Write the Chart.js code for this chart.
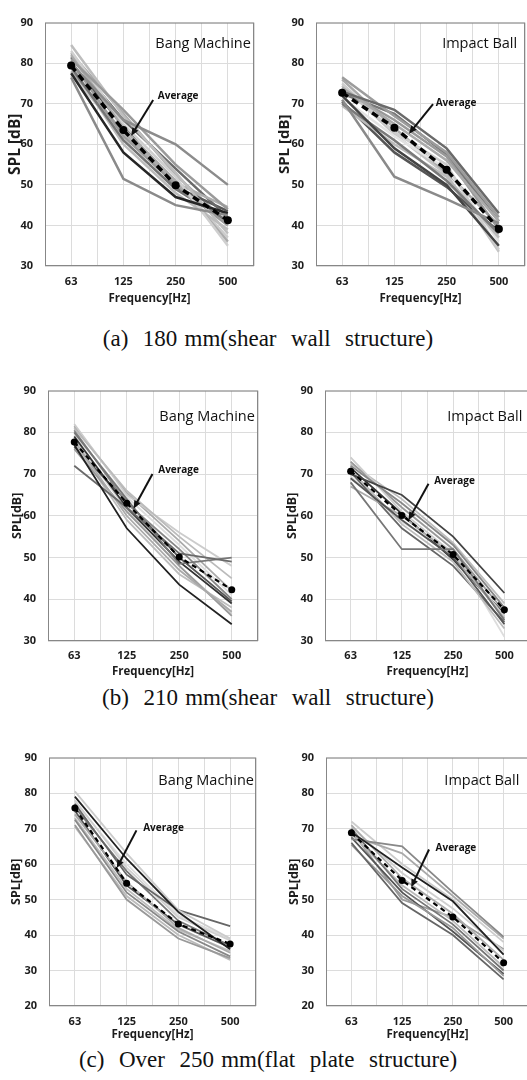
<!DOCTYPE html>
<html>
<head>
<meta charset="utf-8">
<script src="https://cdn.jsdelivr.net/npm/chart.js@4/dist/chart.umd.min.js"></script>
<style>
  html, body { margin: 0; padding: 0; background: #fff; }
  body { position: relative; width: 527px; height: 1080px; overflow: hidden; }
  canvas { position: absolute; }
  .cap {
    position: absolute; left: 0; width: 536px; text-align: center;
    font-family: "Liberation Serif", "Times New Roman", serif;
    font-size: 23px; line-height: 26px; word-spacing: 1.5px; white-space: pre; color: #111;
  }
</style>
</head>
<body>
<canvas id="bang180"></canvas>
<canvas id="impact180"></canvas>
<canvas id="bang210"></canvas>
<canvas id="impact210"></canvas>
<canvas id="bang250"></canvas>
<canvas id="impact250"></canvas>
<div class="cap" style="top:326px">(a)  180 mm(shear  wall  structure)</div>
<div class="cap" style="top:685px">(b)  210 mm(shear  wall  structure)</div>
<div class="cap" style="top:1047px">(c)  Over  250 mm(flat  plate  structure)</div>

<script>
// Octave-band centre frequencies [Hz]
const FREQ_LABELS = ['63', '125', '250', '500'];

// (a) 180 mm slabs, shear wall structure – bang machine runs [dB]
const BANG_180_RUNS = [
  [76.5, 51.5, 45.0, 42.5],
  [77.5, 58.0, 47.0, 43.0],
  [80.0, 66.0, 60.0, 50.0],
  [81.0, 68.5, 55.0, 44.0],
  [84.5, 67.0, 53.0, 38.0],
  [83.0, 65.0, 52.0, 35.0],
  [82.0, 64.0, 51.0, 36.0],
  [80.5, 62.0, 50.0, 40.0],
  [79.0, 61.0, 49.0, 41.0],
  [78.0, 63.0, 50.5, 44.5],
  [81.5, 66.0, 54.0, 42.0],
  [79.5, 60.0, 48.0, 39.0],
  [77.0, 62.5, 51.0, 37.0],
  [80.0, 64.5, 49.5, 43.5],
  [82.5, 67.5, 52.5, 40.5]
];
const BANG_180_AVG = [79.4, 63.5, 49.9, 41.3];

// (a) 180 mm slabs – impact ball runs [dB]
const IMPACT_180_RUNS = [
  [71.0, 52.0, 46.5, 40.5],
  [73.0, 68.5, 59.0, 43.0],
  [76.5, 67.0, 58.0, 42.0],
  [72.0, 59.0, 50.0, 35.0],
  [70.0, 61.0, 51.0, 38.0],
  [74.0, 65.0, 56.0, 41.0],
  [75.0, 63.0, 55.0, 34.0],
  [69.5, 60.0, 52.0, 37.0],
  [73.5, 66.0, 57.0, 39.0],
  [71.5, 62.0, 54.0, 36.0],
  [76.0, 64.0, 53.0, 40.0],
  [72.5, 67.5, 57.5, 41.0],
  [70.5, 58.0, 49.5, 38.5],
  [74.5, 62.5, 52.5, 33.5]
];
const IMPACT_180_AVG = [72.7, 64.1, 53.7, 39.1];

// (b) 210 mm slabs, shear wall structure – bang machine runs [dB]
const BANG_210_RUNS = [
  [77.0, 57.0, 43.5, 34.0],
  [72.0, 62.0, 51.0, 49.0],
  [80.0, 64.0, 48.5, 50.0],
  [81.0, 66.0, 55.0, 45.0],
  [82.0, 65.0, 56.0, 48.0],
  [79.0, 62.0, 49.0, 39.0],
  [78.0, 60.0, 47.0, 37.0],
  [76.0, 61.0, 48.0, 36.0],
  [80.5, 63.0, 52.0, 40.0],
  [77.5, 59.0, 46.0, 38.0],
  [79.5, 64.5, 53.0, 41.0],
  [76.5, 63.5, 50.0, 39.5],
  [81.5, 65.5, 54.0, 42.0],
  [78.5, 61.5, 48.0, 36.5]
];
const BANG_210_AVG = [77.7, 63.0, 50.1, 42.3];

// (b) 210 mm slabs – impact ball runs [dB]
const IMPACT_210_RUNS = [
  [68.0, 52.0, 52.0, 35.0],
  [70.0, 65.0, 55.0, 41.5],
  [72.0, 63.0, 53.0, 38.0],
  [74.0, 61.0, 51.0, 36.0],
  [69.0, 59.0, 50.0, 34.0],
  [71.0, 58.0, 49.0, 33.0],
  [73.0, 62.0, 52.0, 37.0],
  [67.0, 60.0, 50.5, 35.5],
  [70.5, 57.0, 48.0, 34.5],
  [72.5, 64.0, 53.5, 39.0],
  [69.5, 58.5, 51.5, 31.0],
  [71.5, 60.5, 49.5, 36.5]
];
const IMPACT_210_AVG = [70.7, 60.1, 50.7, 37.5];

// (c) over 250 mm slabs, flat plate structure – bang machine runs [dB]
const BANG_250_RUNS = [
  [79.0, 61.5, 46.5, 36.0],
  [80.5, 63.0, 47.0, 39.0],
  [77.0, 57.0, 47.0, 42.5],
  [71.0, 50.0, 39.0, 33.5],
  [72.5, 52.0, 41.0, 34.0],
  [74.0, 55.0, 42.0, 35.0],
  [70.5, 51.0, 40.0, 33.0],
  [76.0, 58.0, 44.0, 37.0],
  [78.0, 59.0, 45.0, 38.5],
  [75.0, 54.0, 43.0, 36.5],
  [73.0, 53.0, 41.5, 35.5],
  [77.5, 60.0, 45.5, 39.0]
];
const BANG_250_AVG = [75.8, 54.6, 43.1, 37.5];

// (c) over 250 mm slabs – impact ball runs [dB]
const IMPACT_250_RUNS = [
  [69.0, 59.0, 49.5, 34.5],
  [67.0, 65.0, 52.0, 39.5],
  [68.0, 63.0, 51.0, 39.0],
  [72.0, 60.0, 50.0, 38.0],
  [66.0, 49.0, 40.0, 27.5],
  [65.5, 51.0, 42.0, 28.5],
  [70.0, 53.0, 43.0, 30.0],
  [68.5, 54.0, 44.0, 31.0],
  [71.0, 56.0, 46.0, 33.0],
  [67.5, 52.0, 41.0, 29.0],
  [70.5, 57.5, 47.5, 35.5],
  [69.5, 50.0, 45.0, 36.0]
];
const IMPACT_250_AVG = [68.8, 55.4, 45.1, 32.2];

// SPL axis ranges [dB]
const SPL_RANGE_SHEAR = [30, 90];
const SPL_RANGE_FLAT = [20, 90];

// Grey shades used for the individual runs (one per run)
const SHADES_BANG_180   = ['#8a8a8a','#262626','#8c8c8c','#9a9a9a','#bdbdbd','#cfcfcf','#ababab','#9b9b9b','#747474','#adadad','#6a6a6a','#bbbbbb','#cccccc','#585858','#a8a8a8'];
const SHADES_IMPACT_180 = ['#8a8a8a','#6a6a6a','#9c9c9c','#444444','#7a7a7a','#aaaaaa','#cccccc','#bbbbbb','#999999','#e2e2e2','#a9a9a9','#777777','#555555','#c4c4c4'];
const SHADES_BANG_210   = ['#222222','#6a6a6a','#777777','#bbbbbb','#cccccc','#333333','#aaaaaa','#999999','#888888','#bdbdbd','#dddddd','#555555','#ababab','#cfcfcf'];
const SHADES_IMPACT_210 = ['#777777','#444444','#888888','#cccccc','#555555','#bbbbbb','#999999','#aaaaaa','#666666','#bdbdbd','#dddddd','#333333'];
const SHADES_BANG_250   = ['#222222','#cccccc','#666666','#999999','#888888','#aaaaaa','#bbbbbb','#777777','#cfcfcf','#555555','#bdbdbd','#dddddd'];
const SHADES_IMPACT_250 = ['#222222','#888888','#aaaaaa','#cccccc','#666666','#999999','#777777','#bbbbbb','#ababab','#555555','#cfcfcf','#9a9a9a'];

const FONT = '"Open Sans", "Liberation Sans", sans-serif';
const TEXT = '#1c1c1c';

// Frame, test-method name and the "Average" call-out drawn on top of the plot
const panelDecor = {
  id: 'panelDecor',
  afterDatasetsDraw(chart, args, opts) {
    const { ctx, chartArea: a, scales: { x, y } } = chart;
    ctx.save();
    ctx.strokeStyle = '#878787';
    ctx.lineWidth = 1;
    ctx.strokeRect(a.left + 0.5, a.top + 0.5, a.right - a.left - 1, a.bottom - a.top - 1);

    ctx.fillStyle = '#111';
    ctx.textBaseline = 'middle';
    ctx.font = '14.5px ' + FONT;
    ctx.textAlign = 'right';
    ctx.fillText(opts.name, x.getPixelForValue(opts.nameAt[0]), y.getPixelForValue(opts.nameAt[1]));

    ctx.font = 'bold 10px ' + FONT;
    ctx.textAlign = 'left';
    ctx.fillText('Average', x.getPixelForValue(opts.labelAt[0]), y.getPixelForValue(opts.labelAt[1]));

    const x0 = x.getPixelForValue(opts.arrowFrom[0]), y0 = y.getPixelForValue(opts.arrowFrom[1]);
    const x1 = x.getPixelForValue(opts.arrowTo[0]),   y1 = y.getPixelForValue(opts.arrowTo[1]);
    const ang = Math.atan2(y1 - y0, x1 - x0);
    const head = 8, half = 3.5;
    ctx.strokeStyle = '#111';
    ctx.lineWidth = 2;
    ctx.beginPath();
    ctx.moveTo(x0, y0);
    ctx.lineTo(x1 - Math.cos(ang) * head * 0.8, y1 - Math.sin(ang) * head * 0.8);
    ctx.stroke();
    ctx.beginPath();
    ctx.moveTo(x1, y1);
    ctx.lineTo(x1 - Math.cos(ang) * head - Math.sin(ang) * half, y1 - Math.sin(ang) * head + Math.cos(ang) * half);
    ctx.lineTo(x1 - Math.cos(ang) * head + Math.sin(ang) * half, y1 - Math.sin(ang) * head - Math.cos(ang) * half);
    ctx.closePath();
    ctx.fill();
    ctx.restore();
  }
};

function toPoints(values) {
  return values.map((v, i) => ({ x: i, y: v }));
}

function buildPanel(p) {
  const canvas = document.getElementById(p.id);
  canvas.width = p.yW + p.plotW + p.padR;
  canvas.height = p.padT + p.plotH + p.xH;
  canvas.style.left = (p.axisX - p.yW) + 'px';
  canvas.style.top = (p.plotTop - p.padT) + 'px';

  const datasets = [{
    data: toPoints(p.avg),
    borderColor: '#000',
    borderWidth: p.avgW,
    borderDash: p.dash,
    pointRadius: p.dot,
    pointBackgroundColor: '#000',
    pointBorderWidth: 0,
    order: 0
  }];
  p.runs.forEach((run, k) => datasets.push({
    data: toPoints(run),
    borderColor: p.shades[k % p.shades.length],
    borderWidth: p.runW,
    pointRadius: 0,
    order: 1
  }));

  new Chart(canvas, {
    type: 'line',
    data: { datasets },
    options: {
      responsive: false,
      animation: false,
      devicePixelRatio: 1,
      layout: { padding: { top: p.padT, right: p.padR, left: 0, bottom: 0 } },
      elements: { line: { tension: 0, borderCapStyle: 'butt', borderJoinStyle: 'miter' } },
      plugins: {
        legend: { display: false },
        tooltip: { enabled: false },
        panelDecor: p.decor
      },
      scales: {
        x: {
          type: 'linear',
          min: -0.5, max: 3.5,
          border: { display: false },
          grid: { color: '#dcdcdc', lineWidth: 1, drawTicks: false },
          ticks: {
            stepSize: 0.5, autoSkip: false, maxRotation: 0, padding: p.xTickPad,
            color: TEXT, font: { family: FONT, size: 11, weight: 'bold' },
            callback: v => (Number.isInteger(v) ? FREQ_LABELS[v] : '')
          },
          title: {
            display: true, text: 'Frequency[Hz]', color: TEXT,
            font: { family: FONT, size: 11.5, weight: 'bold' },
            padding: { top: 0, bottom: p.xTitlePad }
          },
          afterFit: s => { s.height = p.xH; }
        },
        y: {
          min: p.range[0], max: p.range[1],
          border: { display: false },
          grid: { color: '#dcdcdc', lineWidth: 1, drawTicks: false },
          ticks: {
            stepSize: 10, padding: 12, color: TEXT,
            font: { family: FONT, size: 11, weight: 'bold' }
          },
          title: {
            display: true, text: p.yTitle, color: TEXT,
            font: { family: FONT, size: p.yTitleSize, weight: 'bold' },
            padding: { top: p.yTitlePad, bottom: 0 }
          },
          afterFit: s => { s.width = p.yW; }
        }
      }
    },
    plugins: [panelDecor]
  });
}

const PANELS = [
  { id: 'bang180', runs: BANG_180_RUNS, avg: BANG_180_AVG, shades: SHADES_BANG_180, range: SPL_RANGE_SHEAR,
    yTitle: 'SPL [dB]', yTitleSize: 15.5, yTitlePad: 6, axisX: 45, plotTop: 12, plotW: 213, plotH: 254,
    yW: 45, padT: 8, padR: 5, xH: 42, xTickPad: 9, xTitlePad: 2.5,
    runW: 2.5, avgW: 3.5, dash: [7, 5], dot: 4,
    decor: { name: 'Bang Machine', nameAt: [3.44, 84.8], labelAt: [1.66, 71.8], arrowFrom: [1.57, 70.9], arrowTo: [1.15, 62.1] } },
  { id: 'impact180', runs: IMPACT_180_RUNS, avg: IMPACT_180_AVG, shades: SHADES_IMPACT_180, range: SPL_RANGE_SHEAR,
    yTitle: 'SPL [dB]', yTitleSize: 15, yTitlePad: 5, axisX: 316, plotTop: 12, plotW: 213, plotH: 254,
    yW: 45, padT: 8, padR: 5, xH: 42, xTickPad: 9, xTitlePad: 2.5,
    runW: 2.5, avgW: 3.5, dash: [7, 5], dot: 4,
    decor: { name: 'Impact Ball', nameAt: [3.35, 84.8], labelAt: [1.79, 70.2], arrowFrom: [1.74, 69.9], arrowTo: [1.28, 62.6] } },
  { id: 'bang210', runs: BANG_210_RUNS, avg: BANG_210_AVG, shades: SHADES_BANG_210, range: SPL_RANGE_SHEAR,
    yTitle: 'SPL[dB]', yTitleSize: 12.5, yTitlePad: 7, axisX: 48, plotTop: 380, plotW: 213, plotH: 261,
    yW: 45, padT: 8, padR: 5, xH: 42, xTickPad: 8, xTitlePad: 4,
    runW: 1.8, avgW: 2.2, dash: [5, 4], dot: 3.5,
    decor: { name: 'Bang Machine', nameAt: [3.44, 83.6], labelAt: [1.60, 70.9], arrowFrom: [1.49, 70.0], arrowTo: [1.13, 61.7] } },
  { id: 'impact210', runs: IMPACT_210_RUNS, avg: IMPACT_210_AVG, shades: SHADES_IMPACT_210, range: SPL_RANGE_SHEAR,
    yTitle: 'SPL[dB]', yTitleSize: 12.5, yTitlePad: 4.5, axisX: 325, plotTop: 380, plotW: 208, plotH: 261,
    yW: 45, padT: 8, padR: 5, xH: 42, xTickPad: 8, xTitlePad: 4,
    runW: 1.8, avgW: 2.2, dash: [5, 4], dot: 3.5,
    decor: { name: 'Impact Ball', nameAt: [3.35, 83.6], labelAt: [1.63, 68.2], arrowFrom: [1.52, 67.7], arrowTo: [1.13, 59.0] } },
  { id: 'bang250', runs: BANG_250_RUNS, avg: BANG_250_AVG, shades: SHADES_BANG_250, range: SPL_RANGE_FLAT,
    yTitle: 'SPL[dB]', yTitleSize: 12.5, yTitlePad: 4.5, axisX: 49, plotTop: 747, plotW: 211, plotH: 259,
    yW: 45, padT: 8, padR: 5, xH: 40, xTickPad: 9, xTitlePad: 4,
    runW: 1.8, avgW: 2.2, dash: [5, 4], dot: 3.5,
    decor: { name: 'Bang Machine', nameAt: [3.46, 83.5], labelAt: [1.32, 70.0], arrowFrom: [1.19, 69.5], arrowTo: [0.81, 58.9] } },
  { id: 'impact250', runs: IMPACT_250_RUNS, avg: IMPACT_250_AVG, shades: SHADES_IMPACT_250, range: SPL_RANGE_FLAT,
    yTitle: 'SPL[dB]', yTitleSize: 12.5, yTitlePad: 5.5, axisX: 326, plotTop: 747, plotW: 207, plotH: 259,
    yW: 45, padT: 8, padR: 5, xH: 40, xTickPad: 9, xTitlePad: 4,
    runW: 1.8, avgW: 2.2, dash: [5, 4], dot: 3.5,
    decor: { name: 'Impact Ball', nameAt: [3.31, 83.5], labelAt: [1.66, 64.6], arrowFrom: [1.53, 64.1], arrowTo: [1.18, 53.5] } }
];

PANELS.forEach(buildPanel);
</script>
</body>
</html>
